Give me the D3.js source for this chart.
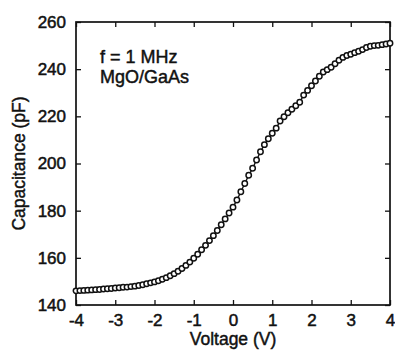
<!DOCTYPE html>
<html>
<head>
<meta charset="utf-8">
<script src="https://cdn.jsdelivr.net/npm/d3@7"></script>
<style>
  body { margin: 0; background: #fff; }
  text { font-family: "Liberation Sans", Arial, sans-serif; fill: #111; }
</style>
</head>
<body>
<div class="cv-plot"></div>
<script>
// C-V sweep, 0.1 V steps
const voltage = [
  -4.0, -3.9, -3.8, -3.7, -3.6, -3.5, -3.4, -3.3, -3.2, -3.1,
  -3.0, -2.9, -2.8, -2.7, -2.6, -2.5, -2.4, -2.3, -2.2, -2.1,
  -2.0, -1.9, -1.8, -1.7, -1.6, -1.5, -1.4, -1.3, -1.2, -1.1,
  -1.0, -0.9, -0.8, -0.7, -0.6, -0.5, -0.4, -0.3, -0.2, -0.1,
  0.0, 0.1, 0.2, 0.3, 0.4, 0.5, 0.6, 0.7, 0.8, 0.9,
  1.0, 1.1, 1.2, 1.3, 1.4, 1.5, 1.6, 1.7, 1.8, 1.9,
  2.0, 2.1, 2.2, 2.3, 2.4, 2.5, 2.6, 2.7, 2.8, 2.9,
  3.0, 3.1, 3.2, 3.3, 3.4, 3.5, 3.6, 3.7, 3.8, 3.9, 4.0
]
const capacitance = [
  146.0, 146.1, 146.2, 146.3, 146.4, 146.5, 146.6, 146.8, 146.9, 147.0,
  147.2, 147.3, 147.5, 147.6, 147.8, 148.0, 148.3, 148.6, 149.0, 149.4,
  149.8, 150.3, 150.9, 151.6, 152.4, 153.3, 154.3, 155.5, 156.8, 158.2,
  159.8, 161.5, 163.4, 165.3, 167.3, 169.4, 171.6, 174.0, 176.5, 179.0,
  181.5, 184.5, 188.0, 191.5, 195.0, 198.0, 201.5, 205.0, 208.0, 210.5,
  212.8, 215.0, 218.0, 219.8, 221.5, 223.0, 224.5, 226.0, 229.0, 231.0,
  233.0, 235.0, 237.0, 238.8, 239.8, 240.8, 242.3, 243.8, 245.0, 245.8,
  246.3, 247.0, 247.6, 248.3, 249.2, 249.7, 250.0, 250.1, 250.4, 250.7, 251.0
]
const xTicks = [-4, -3, -2, -1, 0, 1, 2, 3, 4]
const yTicks = [140, 160, 180, 200, 220, 240, 260]
const notes = ['f = 1 MHz', 'MgO/GaAs']

const data = voltage.map((v, i) => ({v: v, c: capacitance[i]}))

const margin = ({top: 22, right: 5, bottom: 49, left: 76})
const width = 395 - margin.left - margin.right,
height = 354 - margin.top - margin.bottom;

const svg = d3.select('.cv-plot').append('svg')
    .attr('width', 395)
    .attr('height', 354)

const g = svg.append('g')
    .attr('transform', `translate(${margin.left},${margin.top})`)

const x = d3.scaleLinear().domain([-4, 4]).range([0, width])
const y = d3.scaleLinear().domain([140, 260]).range([height, 0])

// inward ticks on all four sides, plain hyphen for minus
const tickLen = 5
const plain = d => String(d)
g.append('g').attr('transform', `translate(0,${height})`)
    .call(d3.axisBottom(x).tickValues(xTicks).tickFormat(plain).tickSizeInner(-tickLen).tickSizeOuter(0).tickPadding(9))
g.append('g')
    .call(d3.axisTop(x).tickValues(xTicks).tickSizeInner(-tickLen).tickSizeOuter(0).tickFormat(''))
g.append('g')
    .call(d3.axisLeft(y).tickValues(yTicks).tickFormat(plain).tickSizeInner(-tickLen).tickSizeOuter(0).tickPadding(10))
g.append('g').attr('transform', `translate(${width},0)`)
    .call(d3.axisRight(y).tickValues(yTicks).tickSizeInner(-tickLen).tickSizeOuter(0).tickFormat(''))

g.selectAll('.domain').remove()
g.selectAll('.tick line').attr('stroke', '#111').attr('stroke-width', 1.3)
g.selectAll('.tick text')
    .attr('font-size', 17)
    .attr('font-family', '"Liberation Sans", Arial, sans-serif')
    .attr('fill', '#111')
    .attr('stroke', '#111').attr('stroke-width', 0.5)

g.append('rect')
    .attr('width', width)
    .attr('height', height)
    .attr('fill', 'none')
    .attr('stroke', '#111')
    .attr('stroke-width', 1.7)

const line = d3.line().x(d => x(d.v)).y(d => y(d.c))

g.append('path')
    .datum(data)
    .attr('d', line)
    .attr('fill', 'none')
    .attr('stroke', '#111')
    .attr('stroke-width', 1.4)

g.selectAll('.pt')
    .data(data)
    .enter()
    .append('circle')
    .attr('class', 'pt')
    .attr('cx', d => x(d.v))
    .attr('cy', d => y(d.c))
    .attr('r', 2.7)
    .attr('fill', '#fff')
    .attr('stroke', '#111')
    .attr('stroke-width', 1.5)

g.selectAll('.note')
    .data(notes)
    .enter()
    .append('text')
    .attr('class', 'note')
    .text(d => d)
    .attr('x', 24)
    .attr('y', (d, i) => 41 + i * 20)
    .attr('font-size', 18)
    .attr('stroke', '#111').attr('stroke-width', 0.45)

svg.append('text')
    .text('Voltage (V)')
    .attr('x', margin.left + width / 2)
    .attr('y', 345)
    .attr('text-anchor', 'middle')
    .attr('font-size', 17.5)
    .attr('stroke', '#111').attr('stroke-width', 0.45)

svg.append('text')
    .text('Capacitance (pF)')
    .attr('transform', `translate(25,${margin.top + height / 2}) rotate(-90)`)
    .attr('text-anchor', 'middle')
    .attr('font-size', 17.5)
    .attr('stroke', '#111').attr('stroke-width', 0.45)
</script>
</body>
</html>
